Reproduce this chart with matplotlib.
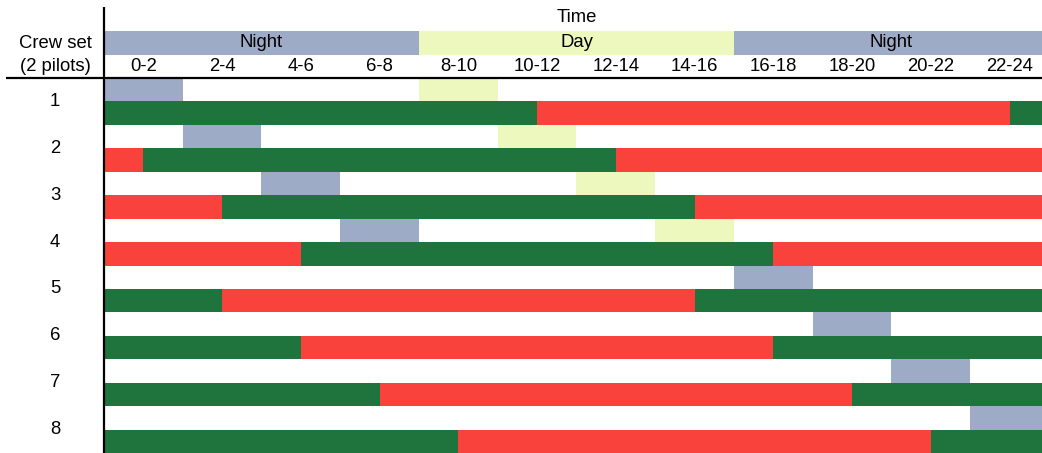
import matplotlib
matplotlib.use("Agg")
import matplotlib.pyplot as plt

plt.rcParams['font.family'] = ['Liberation Sans', 'DejaVu Sans']

# ---- data ----
crews = ["1", "2", "3", "4", "5", "6", "7", "8"]
hour_labels = ["0-2", "2-4", "4-6", "6-8", "8-10", "10-12", "12-14", "14-16",
               "16-18", "18-20", "20-22", "22-24"]
period_names = ["Night", "Day", "Night"]
period_start = [0, 8, 16]
period_end = [8, 16, 24]

night_rest_start = [0, 2, 4, 6, 16, 18, 20, 22]   # grey block per crew
day_rest_start = [8, 10, 12, 14, None, None, None, None]  # yellow block per crew
rest_hours = 2

red_start = [11, 13, 15, 17, 3, 5, 7, 9]
red_end = [23, 1, 3, 5, 15, 17, 19, 21]

# ---- styles ----
C_NIGHT = "#9EABC6"
C_DAY = "#ECF8BE"
C_GREEN = "#1E743C"
C_RED = "#F8423B"
FS = 13.3

W, H = 1042, 453
fig = plt.figure(figsize=(W / 100, H / 100), dpi=100)
ax = fig.add_axes([0, 0, 1, 1])
ax.set_axis_off()

px_per_h = 39.375
x0_px = 104
row_px = 23.44
y0_px = 78
ax.set_xlim(-x0_px / px_per_h, (W - x0_px) / px_per_h)
ax.set_ylim((H - y0_px) / row_px, -y0_px / row_px)

# header bands
for name, s, e in zip(period_names, period_start, period_end):
    col = C_DAY if name == "Day" else C_NIGHT
    ax.barh(-2, e - s, left=s, height=1, align='edge', color=col, lw=0)
    ax.text((s + e) / 2, -1.5, name, ha='center', va='center', fontsize=FS)
ax.text(12, -2.56, "Time", ha='center', va='center', fontsize=FS)
for i, lab in enumerate(hour_labels):
    ax.text(2 * i + 1, -0.5, lab, ha='center', va='center', fontsize=FS)

xlab = (55 - x0_px) / px_per_h
ax.text(xlab, -1.49, "Crew set", ha='center', va='center', fontsize=FS)
ax.text(xlab, -0.51, "(2 pilots)", ha='center', va='center', fontsize=FS)

# crews
for i, c in enumerate(crews):
    top = 2 * i
    ax.barh(top, rest_hours, left=night_rest_start[i], height=1, align='edge',
            color=C_NIGHT, lw=0)
    if day_rest_start[i] is not None:
        ax.barh(top, rest_hours, left=day_rest_start[i], height=1, align='edge',
                color=C_DAY, lw=0)
    bar = top + 1
    ax.barh(bar, 24, left=0, height=1, align='edge', color=C_GREEN, lw=0)
    rs, re = red_start[i], red_end[i]
    if re > rs:
        ax.barh(bar, re - rs, left=rs, height=1, align='edge', color=C_RED, lw=0)
    else:
        ax.barh(bar, 24 - rs, left=rs, height=1, align='edge', color=C_RED, lw=0)
        ax.barh(bar, re, left=0, height=1, align='edge', color=C_RED, lw=0)
    ax.text(xlab, top + 1, c, ha='center', va='center', fontsize=FS)

# frame lines
ax.plot([0, 0], [-3.03, 16.5], color='black', lw=1.6, solid_capstyle='butt', zorder=5)
ax.plot([(6 - x0_px) / px_per_h, 25], [0, 0], color='black', lw=1.6,
        solid_capstyle='butt', zorder=5)

fig.savefig("out.png", dpi=100)
